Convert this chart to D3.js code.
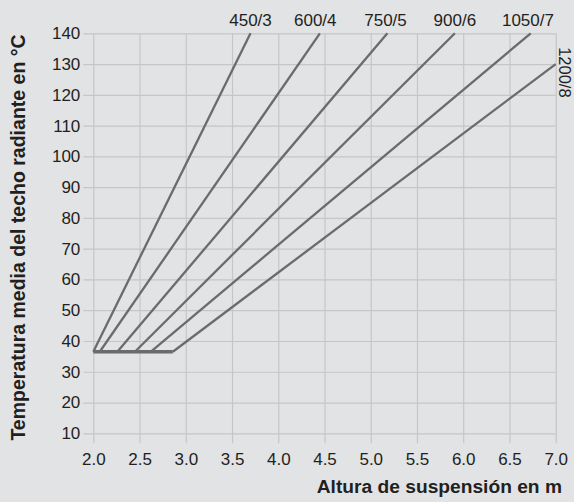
<!DOCTYPE html>
<html>
<head>
<meta charset="utf-8">
<script src="https://cdn.jsdelivr.net/npm/d3@7"></script>
<style>
  html, body { margin: 0; padding: 0; background: #e2e3e5; }
  svg { display: block; }
  text { font-family: "Liberation Sans", Arial, Helvetica, sans-serif; fill: #231f20; }
</style>
</head>
<body>
<svg id="chart" width="574" height="502"></svg>
<script>
// ---- data ----
const seriesNames = ["450/3", "600/4", "750/5", "900/6", "1050/7", "1200/8"];
const startX = [2.0, 2.07, 2.26, 2.45, 2.62, 2.86];
const startY = [36.5, 36.5, 36.5, 36.5, 36.5, 36.5];
const endX = [3.70, 4.45, 5.18, 5.91, 6.73, 7.0];
const endY = [140, 140, 140, 140, 140, 130];
const labelX = [3.70, 4.40, 5.16, 5.91, 6.70];   // top labels (first five series)
const baseX = [2.0, 2.86];
const baseY = 36.5;
const xTicks = [2.0, 2.5, 3.0, 3.5, 4.0, 4.5, 5.0, 5.5, 6.0, 6.5, 7.0];
const yTicks = [10, 20, 30, 40, 50, 60, 70, 80, 90, 100, 110, 120, 130, 140];
const xTitle = "Altura de suspensión en m";
const yTitle = "Temperatura media del techo radiante en °C";

// ---- layout ----
const svg = d3.select("#chart");
const x = d3.scaleLinear().domain([2, 7]).range([93.3, 555.7]);
const y = d3.scaleLinear().domain([10, 140]).range([433.3, 33.3]);
const gridColor = "#c5c6c8";
const lineColor = "#6b6b6b";

svg.append("rect").attr("width", 574).attr("height", 502).attr("fill", "#e2e3e5");

// horizontal grid + left ticks
const yAxis = d3.axisLeft(y).tickValues(yTicks).tickSize(-(x(7) - x(2))).tickSizeOuter(0).tickPadding(13)
  .tickFormat(d3.format("d"));
const gy = svg.append("g").attr("transform", `translate(${x(2)},0)`).call(yAxis);
gy.select(".domain").remove();
gy.selectAll(".tick line").attr("stroke", gridColor).attr("stroke-width", 1.2).attr("x1", -10);
gy.selectAll(".tick text").attr("font-size", 17).attr("fill", "#231f20")
  .attr("font-family", "Liberation Sans, Arial, sans-serif").attr("x", -13);

// vertical grid + bottom ticks
const xAxis = d3.axisBottom(x).tickValues(xTicks).tickSize(-(y(10) - y(140))).tickSizeOuter(0)
  .tickFormat(d3.format(".1f"));
const gx = svg.append("g").attr("transform", `translate(0,${y(10)})`).call(xAxis);
gx.select(".domain").remove();
gx.selectAll(".tick line").attr("stroke", gridColor).attr("stroke-width", 1.2).attr("y1", 10);
gx.selectAll(".tick text").attr("font-size", 17).attr("fill", "#231f20")
  .attr("font-family", "Liberation Sans, Arial, sans-serif").attr("dy", null).attr("y", 32);

// lines
const line = d3.line().x(d => x(d[0])).y(d => y(d[1]));
seriesNames.forEach((name, i) => {
  svg.append("path")
    .datum([[startX[i], startY[i]], [endX[i], endY[i]]])
    .attr("d", line).attr("fill", "none").attr("stroke", lineColor).attr("stroke-width", 2.3);
});
// baseline bar
svg.append("path").datum([[baseX[0], baseY], [baseX[1], baseY]])
  .attr("d", line).attr("fill", "none").attr("stroke", lineColor).attr("stroke-width", 3.6);

// top labels
labelX.forEach((lx, i) => {
  svg.append("text").attr("x", x(lx)).attr("y", 26).attr("text-anchor", "middle")
    .attr("font-size", 17).text(seriesNames[i]);
});
// rotated label for last series
svg.append("text")
  .attr("transform", `translate(${x(7) + 3.5},${y(127.3)}) rotate(90)`)
  .attr("text-anchor", "middle").attr("font-size", 16.5).text(seriesNames[5]);

// axis titles
svg.append("text").attr("x", 562).attr("y", 493).attr("text-anchor", "end")
  .attr("font-size", 19.2).attr("font-weight", "bold").text(xTitle);
svg.append("text").attr("transform", "translate(25,237.5) rotate(-90)")
  .attr("text-anchor", "middle").attr("font-size", 19.5).attr("font-weight", "bold").text(yTitle);
</script>
</body>
</html>
